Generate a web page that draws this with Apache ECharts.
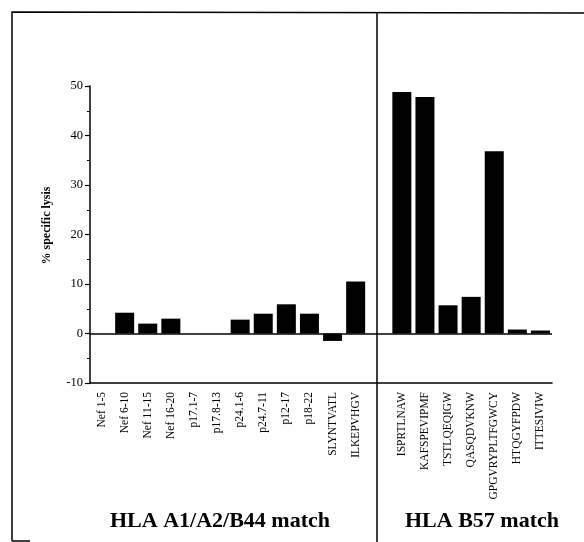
<!DOCTYPE html>
<html><head><meta charset="utf-8">
<script src="https://cdn.jsdelivr.net/npm/echarts@6/dist/echarts.min.js"></script>
<style>html,body{margin:0;padding:0;background:#fff}#c{width:584px;height:542px}</style>
</head><body><div id="c"></div>
<script>
const leftCategories = ['Nef 1-5','Nef 6-10','Nef 11-15','Nef 16-20','p17.1-7','p17.8-13','p24.1-6','p24.7-11','p12-17','p18-22','SLYNTVATL','ILKEPVHGV'];
const leftValues = [0, 4.2, 2.0, 3.0, 0, 0, 2.8, 4.0, 5.9, 4.0, -1.5, 10.5];
const rightCategories = ['ISPRTLNAW','KAFSPEVIPMF','TSTLQEQIGW','QASQDVKNW','GPGVRYPLTFGWCY','HTQGYFPDW','ITTESIVIW'];
const rightValues = [48.8, 47.8, 5.7, 7.4, 36.8, 0.8, 0.6];
const yTicks = [-10, 0, 10, 20, 30, 40, 50];
const groupTitles = ['HLA A1/A2/B44 match', 'HLA B57 match'];
const yName = '% specific lysis';

const categories = leftCategories.concat([''], rightCategories);
const values = leftValues.concat([null], rightValues);

const chart = echarts.init(document.getElementById('c'), null, {renderer:'canvas'});
const serif = '"Liberation Serif", "DejaVu Serif", serif';
chart.setOption({
  animation: false,
  backgroundColor: '#fff',
  title: [
    {text: groupTitles[0], left: 215, top: 505, textAlign: 'center',
     textStyle: {fontFamily: serif, fontWeight: 'bold', fontSize: 22, color: '#000'}},
    {text: groupTitles[1], left: 477, top: 505, textAlign: 'center',
     textStyle: {fontFamily: serif, fontWeight: 'bold', fontSize: 22, color: '#000'}}
  ],
  grid: {left: 90, right: 32, top: 86, bottom: 159, containLabel: false},
  xAxis: {
    type: 'category', data: categories,
    axisLine: {show: true, onZero: false, lineStyle: {color: '#000', width: 1.5}},
    axisTick: {show: false},
    axisLabel: {rotate: 90, margin: 9, fontFamily: serif, fontSize: 11.5, color: '#000', interval: 0}
  },
  yAxis: {
    type: 'value', min: yTicks[0], max: yTicks[yTicks.length-1], interval: 10,
    name: yName, nameLocation: 'middle', nameGap: 37, nameRotate: 90,
    nameTextStyle: {fontFamily: serif, fontWeight: 'bold', fontSize: 12, color: '#000', padding: [0, 0, 0, 18]},
    axisLine: {show: true, lineStyle: {color: '#000', width: 1.5}},
    axisTick: {show: true, length: 5, lineStyle: {color: '#000', width: 1.2}},
    minorTick: {show: true, splitNumber: 2, length: 3, lineStyle: {color: '#000'}},
    axisLabel: {margin: 7, fontFamily: serif, fontSize: 12.5, color: '#000'},
    splitLine: {show: false}
  },
  series: [{
    type: 'bar', data: values, barWidth: 19,
    itemStyle: {color: '#000'},
    markLine: {
      silent: true, symbol: 'none', label: {show: false},
      lineStyle: {color: '#000', width: 1.5, type: 'solid'},
      data: [{yAxis: 0}]
    }
  }],
  graphic: [
    {type: 'polyline', shape: {points: [[12, 541], [12, 12], [600, 13]]}, style: {stroke: '#000', lineWidth: 1.5, fill: null}},
    {type: 'line', shape: {x1: 12, y1: 541, x2: 30, y2: 541}, style: {stroke: '#000', lineWidth: 1.5}},
    {type: 'line', shape: {x1: 377, y1: 13, x2: 377, y2: 542}, style: {stroke: '#000', lineWidth: 1.5}}
  ]
});
</script></body></html>
